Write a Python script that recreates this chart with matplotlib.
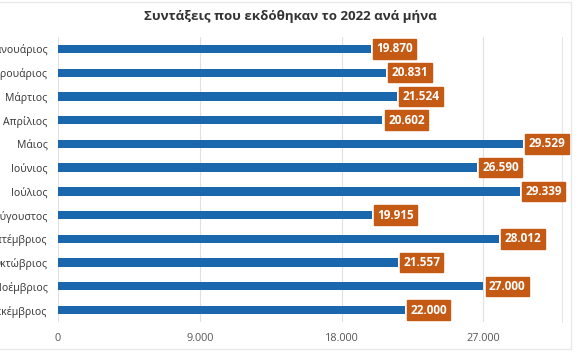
import matplotlib.pyplot as plt
from matplotlib.patches import Rectangle

# Δεδομένα
months = ['Ιανουάριος', 'Φεβρουάριος', 'Μάρτιος', 'Απρίλιος', 'Μάιος', 'Ιούνιος',
          'Ιούλιος', 'Αύγουστος', 'Σεπτέμβριος', 'Οκτώβριος', 'Νοέμβριος', 'Δεκέμβριος']
values = [19870, 20831, 21524, 20602, 29529, 26590, 29339, 19915, 28012, 21557, 27000, 22000]
xticks = [0, 9000, 18000, 27000]
xticklabels = ['0', '9.000', '18.000', '27.000']

blue = '#1a67ae'
orange = '#c55a15'

plt.rcParams['font.family'] = ['Open Sans', 'DejaVu Sans']

fig = plt.figure(figsize=(5.8, 3.53), dpi=100)
ax = fig.add_axes([0.1, 0.088, 0.869, 0.807])

y = list(range(len(months)))
ax.barh(y, values, height=0.35, color=blue, zorder=3)

for yi, v in zip(y, values):
    label = f'{v:,}'.replace(',', '.')
    ax.annotate(label, (v, yi), xytext=(4, 0), textcoords='offset points',
                ha='left', va='center', color='white', fontsize=8.5, fontweight='bold',
                bbox=dict(boxstyle='square,pad=0.28', fc=orange, ec=orange), zorder=4)

ax.set_ylim(len(months) - 0.5, -0.5)
ax.set_xlim(0, 32000)
ax.set_yticks(y)
ax.set_yticklabels(months, fontsize=7.6, color='#333333')
ax.set_xticks(xticks)
ax.set_xticklabels(xticklabels, fontsize=7.8, color='#555555')
ax.tick_params(axis='y', length=0, pad=7.5)
ax.tick_params(axis='x', length=0, pad=8)
ax.grid(axis='x', color='#e0e0e0', linewidth=0.8, zorder=0)
for s in ['top', 'bottom', 'left']:
    ax.spines[s].set_visible(False)
ax.spines['right'].set_color('#e6e6e6')

fig.text(0.5, 0.952, 'Συντάξεις που εκδόθηκαν το 2022 ανά μήνα', ha='center', va='center',
         fontsize=9.6, fontweight='bold', color='#333333')

# λεπτό πλαίσιο γύρω από το γράφημα
fig.patches.append(Rectangle((-0.01, 0.01), 0.994, 0.983, transform=fig.transFigure,
                             fill=False, ec='#e8e8e8', lw=1))

fig.savefig('out.png', dpi=100)
